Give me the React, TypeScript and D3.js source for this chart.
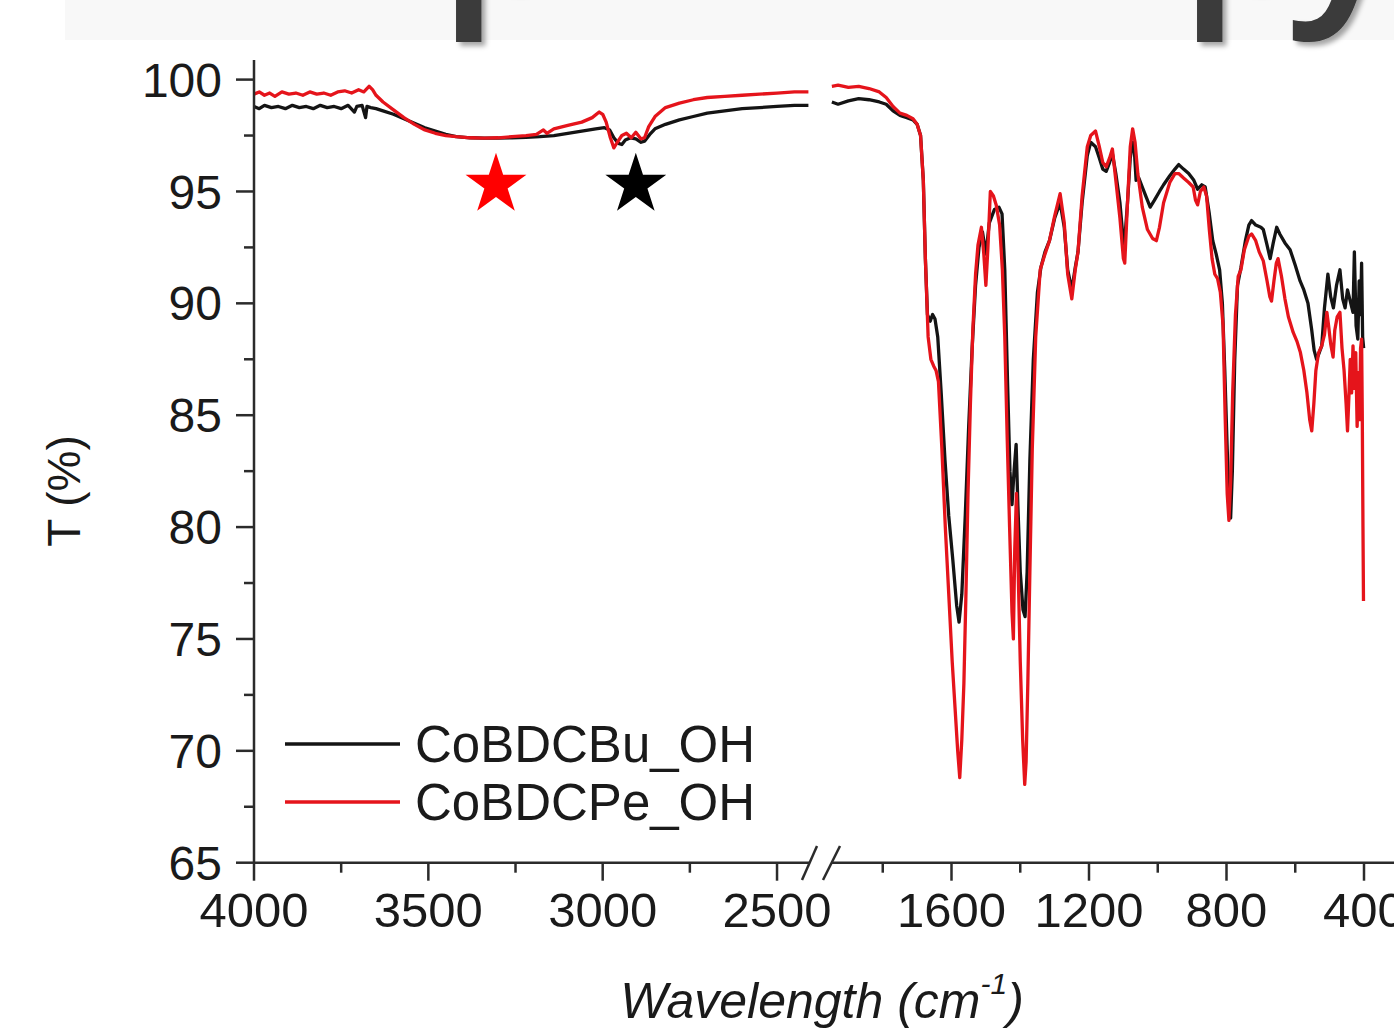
import React from 'react';
import * as d3 from 'd3';

// ---------- axis ticks ----------
const yMajor = [65, 70, 75, 80, 85, 90, 95, 100];
const yMinor = [67.5, 72.5, 77.5, 82.5, 87.5, 92.5, 97.5];
const leftMajor = [4000, 3500, 3000, 2500];
const leftMinor = [3750, 3250, 2750];
const rightMajor = [1600, 1200, 800, 400];
const rightMinor = [1800, 1400, 1000, 600];

const seriesNames = ['CoBDCBu_OH', 'CoBDCPe_OH'];
const seriesColors = ['#141414', '#e5141b'];

// ---------- high wavenumber segment (4000-2400) ----------
const buHighWn = [4000, 3985, 3970, 3950, 3930, 3910, 3890, 3870, 3850, 3830, 3810, 3790, 3770, 3750, 3730, 3712, 3705, 3690, 3680, 3676, 3665, 3650, 3630, 3600, 3570, 3540, 3510, 3480, 3450, 3420, 3380, 3340, 3300, 3260, 3220, 3180, 3140, 3100, 3060, 3020, 2995, 2980, 2968, 2955, 2945, 2935, 2920, 2905, 2890, 2880, 2865, 2850, 2820, 2780, 2740, 2700, 2650, 2600, 2550, 2500, 2450, 2410];
const buHighT = [98.8, 98.7, 98.85, 98.75, 98.8, 98.7, 98.85, 98.75, 98.8, 98.7, 98.85, 98.75, 98.8, 98.7, 98.85, 98.55, 98.8, 98.85, 98.3, 98.8, 98.75, 98.7, 98.6, 98.45, 98.25, 98.05, 97.85, 97.7, 97.55, 97.45, 97.4, 97.38, 97.38, 97.4, 97.42, 97.45, 97.5, 97.6, 97.7, 97.8, 97.85, 97.75, 97.4, 97.15, 97.1, 97.3, 97.4, 97.35, 97.2, 97.25, 97.55, 97.8, 98.0, 98.2, 98.35, 98.5, 98.6, 98.7, 98.75, 98.8, 98.85, 98.85];

const peHighWn = [4000, 3985, 3970, 3955, 3940, 3920, 3900, 3880, 3860, 3840, 3820, 3800, 3780, 3760, 3740, 3720, 3700, 3685, 3670, 3660, 3650, 3630, 3600, 3570, 3540, 3510, 3480, 3450, 3420, 3380, 3340, 3300, 3260, 3220, 3190, 3170, 3160, 3140, 3100, 3060, 3030, 3010, 3000, 2990, 2978, 2968, 2958, 2945, 2932, 2918, 2905, 2890, 2880, 2868, 2850, 2820, 2780, 2740, 2700, 2650, 2600, 2550, 2500, 2450, 2410];
const peHighT = [99.35, 99.45, 99.3, 99.4, 99.25, 99.45, 99.35, 99.4, 99.3, 99.45, 99.35, 99.4, 99.3, 99.45, 99.5, 99.4, 99.55, 99.45, 99.7, 99.55, 99.3, 99.0, 98.65, 98.3, 98.0, 97.75, 97.6, 97.5, 97.45, 97.4, 97.38, 97.4, 97.45, 97.5, 97.55, 97.75, 97.6, 97.8, 97.95, 98.1, 98.3, 98.55, 98.45, 98.1, 97.4, 96.95, 97.2, 97.5, 97.6, 97.4, 97.65, 97.35, 97.4, 97.9, 98.35, 98.75, 98.95, 99.1, 99.2, 99.25, 99.3, 99.35, 99.4, 99.45, 99.45];

// ---------- low wavenumber segment (2000-400) ----------
const buLowWn = [1948, 1930, 1900, 1870, 1840, 1810, 1790, 1770, 1750, 1730, 1712, 1700, 1690, 1682, 1676, 1670, 1662, 1655, 1648, 1640, 1630, 1619, 1608, 1596, 1585, 1578, 1570, 1560, 1550, 1540, 1530, 1520, 1510, 1500, 1490, 1475, 1462, 1453, 1445, 1437, 1430, 1424, 1418, 1412, 1407, 1400, 1392, 1386, 1380, 1372, 1362, 1350, 1340, 1328, 1315, 1300, 1284, 1272, 1262, 1250, 1240, 1232, 1220, 1205, 1195, 1181, 1170, 1160, 1150, 1140, 1132, 1122, 1110, 1098, 1088, 1080, 1073, 1068, 1063, 1055, 1045, 1035, 1022, 1010, 995, 983, 965, 950, 939, 925, 910, 895, 884, 872, 862, 850, 840, 830, 820, 812, 805, 798, 792, 788, 783, 776, 768, 758, 745, 735, 727, 715, 700, 693, 682, 673, 664, 654, 645, 630, 615, 600, 586, 575, 563, 552, 545, 538, 530, 523, 515, 505, 497, 489, 480, 470, 462, 455, 448, 440, 432, 428, 423, 418, 414, 410, 407, 404, 401];
const buLowT = [99.0, 98.9, 99.05, 99.15, 99.1, 99.0, 98.9, 98.6, 98.4, 98.3, 98.2, 98.0, 97.5, 95.5, 92, 89.5, 89.2, 89.5, 89.3, 88.5, 86, 83, 80.5, 78.5, 76.5, 75.75, 77, 80.5, 84.5, 88, 90.8, 92.5, 93.2, 92.2, 93.6, 94.2, 94.3, 94, 91.5, 86.5, 82.5, 81, 82.5, 83.7, 81, 78, 76.3, 76, 78, 83, 87.5, 90.5, 91.6, 92.3, 92.8, 93.8, 94.5, 93.4, 91.5, 90.6, 91.6, 92.3, 94.5, 96.6, 97.2, 97.0, 96.5, 96.0, 95.9, 96.3, 96.7, 95.8, 94.5, 92.4, 94.5, 96.5, 97.2, 96.8, 95.5, 95.6, 95.2, 94.8, 94.3, 94.6, 95.0, 95.3, 95.7, 96.0, 96.2, 96.0, 95.8, 95.5, 95.1, 95.3, 95.2, 94, 92.8, 92.2, 91.5, 90, 87, 83.5, 81, 80.4, 82.5, 87.5, 90.8, 91.6, 92.8, 93.5, 93.7, 93.5, 93.4, 93.3, 92.6, 92.0, 92.7, 93.4, 93.1, 92.7, 92.4, 91.7, 91.0, 90.6, 90.0, 88.8, 87.9, 87.5, 87.8, 88.1, 89.8, 91.3, 90.3, 89.8, 90.8, 91.5, 90.2, 89.8, 90.6, 90.1, 89.6, 92.3, 89, 88.4, 91, 89.5, 91.8, 88.5, 88.0];

const peLowWn = [1948, 1930, 1900, 1870, 1840, 1810, 1790, 1770, 1750, 1730, 1712, 1700, 1690, 1682, 1676, 1668, 1660, 1652, 1645, 1638, 1628, 1618, 1608, 1598, 1590, 1582, 1576, 1570, 1564, 1558, 1552, 1545, 1538, 1530, 1523, 1513, 1506, 1500, 1494, 1487, 1478, 1470, 1460, 1452, 1445, 1438, 1431, 1424, 1420, 1416, 1411, 1406, 1400, 1393, 1387, 1383, 1378, 1372, 1365, 1355, 1342, 1328, 1315, 1300, 1284, 1272, 1262, 1250, 1240, 1232, 1220, 1205, 1195, 1181, 1170, 1160, 1150, 1140, 1132, 1122, 1110, 1100, 1096, 1088, 1080, 1073, 1066, 1058, 1045, 1030, 1015, 1004, 995, 983, 965, 950, 939, 925, 910, 897, 890, 884, 876, 866, 858, 850, 842, 834, 826, 818, 810, 804, 798, 793, 788, 782, 774, 766, 758, 748, 735, 727, 715, 705, 693, 682, 674, 669, 662, 655, 650, 640, 630, 620, 606, 595, 585, 575, 566, 558, 552, 546, 540, 532, 523, 515, 508, 503, 497, 490, 485, 478, 470, 464, 458, 452, 448, 444, 440, 436, 432, 428, 424, 420, 416, 413, 410, 407, 405, 403, 401.5];
const peLowT = [99.7, 99.75, 99.65, 99.7, 99.6, 99.45, 99.2, 98.8, 98.5, 98.4, 98.25, 98.0, 97.5, 95.5, 92, 88.5, 87.5, 87.2, 87, 86.5, 83.5, 80, 77, 74, 72, 70, 68.8, 70.5, 73, 77, 81.5, 85.5, 88.8, 91.3, 92.6, 93.4, 92.2, 90.8, 92.5, 95.0, 94.8, 94.4, 93.5, 91.5, 88.5, 84, 80, 76.2, 75, 79, 81.5, 78, 74, 70.5, 68.5, 69.5, 73, 78, 83.5, 88.5, 91.5, 92.2, 92.8, 93.9, 94.9, 93.6, 91.3, 90.2, 91.5, 92.3, 94.8, 97.0, 97.5, 97.7, 97.0, 96.3, 96.1, 96.5, 96.9, 95.5, 93.8, 92.0, 91.8, 94.5, 97.0, 97.8, 97.2, 95.8, 94.3, 93.3, 92.9, 92.8, 93.4, 94.5, 95.4, 95.8, 95.8, 95.6, 95.4, 95.2, 94.6, 94.4, 95.0, 95.2, 94.8, 93.3, 92.0, 91.3, 91.1, 90.5, 89, 85, 81.5, 80.3, 82, 86, 89.5, 91.2, 91.5, 92.4, 93.0, 93.1, 92.8, 92.3, 91.9, 91.0, 90.3, 90.1, 91.0, 91.8, 92.0, 91.2, 90.2, 89.4, 88.7, 88.3, 87.8, 87.0, 86.0, 84.8, 84.3, 85.5, 87.0, 87.8, 88.1, 88.6, 89.6, 89.0, 88.2, 87.6, 88.8, 89.4, 89.6, 88.0, 87.0, 85.5, 84.3, 85.8, 87.5, 86, 88.1, 86.2, 87.8, 84.5, 86.9, 84.8, 88.0, 88.4, 85, 80, 76.7];

// star markers (wavenumber, T)
const starWn = [3306, 2905];
const starT = [95.3, 95.3];
const starColors = ['#ff0000', '#000000'];

const W = 1394;
const H = 1028;

export default function App() {
  const yScale = d3.scaleLinear().domain([65, 100]).range([862.7, 79.6]);
  const xLeft = d3.scaleLinear().domain([4000, 2400]).range([254, 811.9]);
  const xRight = d3.scaleLinear().domain([1600, 400]).range([951.5, 1364]);

  const makeLine = (xs: d3.ScaleLinear<number, number>) =>
    d3.line<[number, number]>().x((d) => xs(d[0])).y((d) => yScale(d[1]));

  const zip = (a: number[], b: number[]) => a.map((v, i) => [v, b[i]] as [number, number]);

  const highSeries = [zip(buHighWn, buHighT), zip(peHighWn, peHighT)];
  const lowSeries = [zip(buLowWn, buLowT), zip(peLowWn, peLowT)];

  const lineL = makeLine(xLeft);
  const lineR = makeLine(xRight);
  const starPath = d3.symbol().type(d3.symbolStar).size((32 * 32) / 0.8908130915292852)();

  const axisColor = '#2b2b2b';
  const font = "'Liberation Sans', Arial, sans-serif";
  const axisY = yScale(65);
  const axisX = xLeft(4000);

  return (
    <svg width={W} height={H} style={{ position: 'absolute', left: 0, top: 0, background: '#fff' }}>
      <defs>
        <filter id="shadow" x="-50%" y="-50%" width="200%" height="200%">
          <feDropShadow dx="4" dy="4" stdDeviation="2.5" floodColor="#000" floodOpacity="0.35" />
        </filter>
      </defs>
      <rect x={0} y={0} width={W} height={H} fill="#fff" />
      {/* cropped title band */}
      <rect x={65} y={0} width={W - 65} height={40} fill="#f8f8f8" />
      <g filter="url(#shadow)" fill="#3a3a3a" fontFamily="'Open Sans', sans-serif" fontWeight={600} fontSize={220}>
        <text x={438} y={-11}>p</text>
        <text x={1179} y={-11} letterSpacing={-28}>py</text>
      </g>

      {/* data */}
      {[0, 1].map((i) => (
        <g key={i} fill="none" stroke={seriesColors[i]} strokeWidth={3.3} strokeLinejoin="round">
          <path d={lineL(highSeries[i]) || ''} />
          <path d={lineR(lowSeries[i]) || ''} />
        </g>
      ))}

      {/* stars */}
      {starWn.map((w, i) => (
        <path key={i} d={starPath || ''} transform={`translate(${xLeft(w)},${yScale(starT[i])})`} fill={starColors[i]} />
      ))}

      {/* y axis */}
      <line x1={axisX} x2={axisX} y1={60} y2={axisY} stroke={axisColor} strokeWidth={2.5} />
      {yMajor.map((v) => (
        <g key={v}>
          <line x1={axisX - 18} x2={axisX} y1={yScale(v)} y2={yScale(v)} stroke={axisColor} strokeWidth={2.5} />
          <text x={222} y={yScale(v)} dy="0.355em" textAnchor="end" fontFamily={font} fontSize={48} fill="#1a1a1a">{v}</text>
        </g>
      ))}
      {yMinor.map((v) => (
        <line key={v} x1={axisX - 10} x2={axisX} y1={yScale(v)} y2={yScale(v)} stroke={axisColor} strokeWidth={2.5} />
      ))}

      {/* x axis (broken) */}
      <line x1={axisX} x2={810} y1={axisY} y2={axisY} stroke={axisColor} strokeWidth={2.5} />
      <line x1={831} x2={W} y1={axisY} y2={axisY} stroke={axisColor} strokeWidth={2.5} />
      <line x1={802} y1={880} x2={817} y2={846} stroke={axisColor} strokeWidth={2.5} />
      <line x1={823} y1={880} x2={840} y2={846} stroke={axisColor} strokeWidth={2.5} />
      {leftMajor.map((v) => (
        <g key={v}>
          <line x1={xLeft(v)} x2={xLeft(v)} y1={axisY} y2={axisY + 18} stroke={axisColor} strokeWidth={2.5} />
          <text x={xLeft(v)} y={927} textAnchor="middle" fontFamily={font} fontSize={49} fill="#1a1a1a">{v}</text>
        </g>
      ))}
      {leftMinor.map((v) => (
        <line key={v} x1={xLeft(v)} x2={xLeft(v)} y1={axisY} y2={axisY + 10} stroke={axisColor} strokeWidth={2.5} />
      ))}
      {rightMajor.map((v) => (
        <g key={v}>
          <line x1={xRight(v)} x2={xRight(v)} y1={axisY} y2={axisY + 18} stroke={axisColor} strokeWidth={2.5} />
          <text x={xRight(v)} y={927} textAnchor="middle" fontFamily={font} fontSize={49} fill="#1a1a1a">{v}</text>
        </g>
      ))}
      {rightMinor.map((v) => (
        <line key={v} x1={xRight(v)} x2={xRight(v)} y1={axisY} y2={axisY + 10} stroke={axisColor} strokeWidth={2.5} />
      ))}

      {/* axis titles */}
      <text transform="translate(80,491) rotate(-90)" textAnchor="middle" fontFamily={font} fontSize={46} fill="#1a1a1a">T (%)</text>
      <text x={822} y={1018} textAnchor="middle" fontFamily={font} fontSize={50} fontStyle="italic" fill="#1a1a1a">
        Wavelength (cm<tspan fontSize={30} dy={-24}>-1</tspan><tspan dy={24}>)</tspan>
      </text>

      {/* legend */}
      {seriesNames.map((name, i) => (
        <g key={name}>
          <line x1={285} x2={400} y1={744 + i * 58} y2={744 + i * 58} stroke={seriesColors[i]} strokeWidth={3.3} />
          <text x={415} y={762 + i * 58} fontFamily={font} fontSize={51} fill="#1a1a1a">{name}</text>
        </g>
      ))}
    </svg>
  );
}
